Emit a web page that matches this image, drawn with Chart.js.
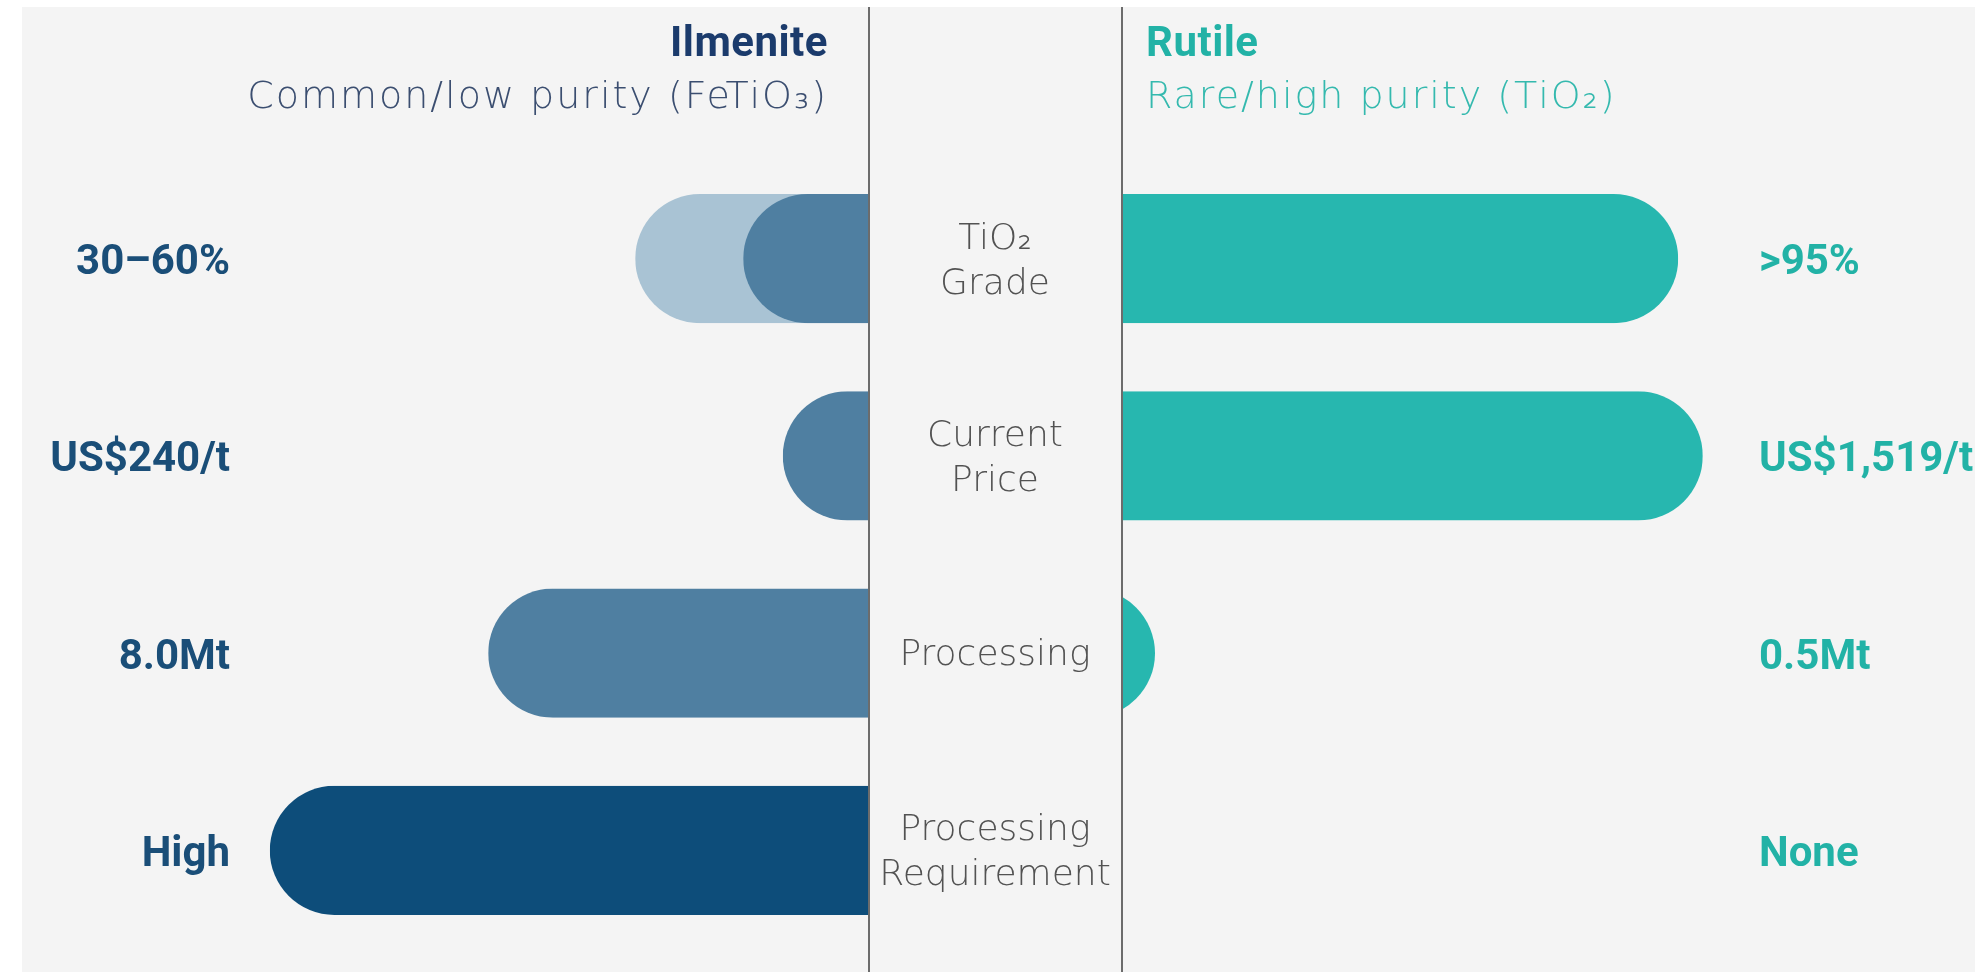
<!DOCTYPE html>
<html>
<head>
<meta charset="utf-8">
<script src="https://cdn.jsdelivr.net/npm/chart.js@4"></script>
<style>
  html, body { margin: 0; padding: 0; background: #ffffff; }
  body { width: 1975px; height: 972px; position: relative; overflow: hidden; }
  #panel { position: absolute; left: 22px; top: 7px; right: 0; bottom: 0; background: #f4f4f4; }
  #left-wrap { position: absolute; left: 0; top: 0; width: 868px; height: 972px; }
  #right-wrap { position: absolute; left: 868px; top: 0; width: 1107px; height: 972px; }
</style>
</head>
<body>
<div id="panel"></div>
<div id="left-wrap"><canvas id="ilmenite-chart"></canvas></div>
<div id="right-wrap"><canvas id="rutile-chart"></canvas></div>
<script>
  // rows, top to bottom
  const categories = ["TiO₂ Grade", "Current Price", "Processing", "Processing Requirement"];
  const centreLabels = [["TiO₂", "Grade"], ["Current", "Price"], ["Processing"], ["Processing", "Requirement"]];
  const ilmeniteLabels = ["30–60%", "US$240/t", "8.0Mt", "High"];
  const rutileLabels = [">95%", "US$1,519/t", "0.5Mt", "None"];

  // bar lengths (relative, 0-100)
  const ilmeniteBars = [20.8, 14.2, 63.3, 99.7];
  const ilmeniteUpper = [38.8, null, null, null]; // upper end of the 30-60% grade range
  const rutileBars = [92.7, 96.8, 5.5, 0];

  const NAVY = "#1b3b6c", BLUE_TXT = "#1a4e78", MID = "#4f7fa1", DARK = "#0d4d7a", LIGHT = "#a9c3d4";
  const TEAL = "#27b7af", TEAL_TXT = "#22b2a6", TEAL_SUB = "#34b9ae", GREY = "#525252";
  const VALUE_FONT = { family: "Roboto", size: 42, weight: "bold" };

  // bars with a fully rounded outer end, cut off flat at the base
  const pillBars = {
    id: "pillBars",
    beforeDatasetDraw(chart, args) {
      const ctx = chart.ctx;
      const ds = chart.data.datasets[args.index];
      args.meta.data.forEach((bar, i) => {
        const v = ds.data[i];
        if (v == null || v === 0) return;
        const p = bar.getProps(["x", "y", "base", "height"], true);
        const left = Math.min(p.x, p.base), w = Math.abs(p.x - p.base), r = p.height / 2;
        ctx.save();
        ctx.beginPath();
        ctx.rect(left, p.y - r, w, p.height);
        ctx.clip();
        ctx.fillStyle = bar.options.backgroundColor;
        ctx.beginPath();
        if (p.x >= p.base) ctx.roundRect(p.x - w - 2 * r, p.y - r, w + 2 * r, p.height, r);
        else ctx.roundRect(p.x, p.y - r, w + 2 * r, p.height, r);
        ctx.fill();
        ctx.restore();
      });
      return false;
    }
  };

  function header(ctx, x, align, title, sub, titleColor, subColor) {
    ctx.save();
    ctx.textAlign = align;
    ctx.textBaseline = "alphabetic";
    ctx.fillStyle = titleColor;
    ctx.font = "bold 42px Roboto";
    ctx.letterSpacing = "0.5px";
    ctx.fillText(title, x, 56);
    ctx.fillStyle = subColor;
    ctx.font = "300 38px 'DejaVu Sans'";
    ctx.letterSpacing = "2px";
    ctx.fillText(sub, x, 108);
    ctx.restore();
  }

  const ilmeniteHeader = {
    id: "ilmeniteHeader",
    afterDraw(chart) {
      header(chart.ctx, chart.chartArea.right - 40, "right", "Ilmenite", "Common/low purity (FeTiO₃)", NAVY, "#3b4e70");
    }
  };

  const rutileExtras = {
    id: "rutileExtras",
    afterDraw(chart) {
      const ctx = chart.ctx, a = chart.chartArea, ys = chart.scales.y;
      header(ctx, a.left + 24, "left", "Rutile", "Rare/high purity (TiO₂)", TEAL_TXT, TEAL_SUB);
      // divider lines
      ctx.save();
      ctx.strokeStyle = "#6c6c6c";
      ctx.lineWidth = 2;
      [1, a.left].forEach((x) => {
        ctx.beginPath(); ctx.moveTo(x, 7); ctx.lineTo(x, chart.height); ctx.stroke();
      });
      // centre category labels
      ctx.fillStyle = GREY;
      ctx.font = "300 36px 'DejaVu Sans'";
      ctx.textAlign = "center";
      ctx.textBaseline = "alphabetic";
      const cx = a.left / 2;
      centreLabels.forEach((lines, i) => {
        const cy = ys.getPixelForValue(i);
        const first = lines.length === 1 ? cy + 12 : cy - 10;
        lines.forEach((t, j) => ctx.fillText(t, cx, first + j * 45));
      });
      ctx.restore();
    }
  };

  const fitAxis = (w) => (s) => { s.width = w; s.paddingTop = 0; s.paddingBottom = 0; };

  const common = {
    indexAxis: "y",
    responsive: true,
    maintainAspectRatio: false,
    animation: false,
    plugins: { legend: { display: false }, tooltip: { enabled: false } },
    datasets: { bar: { grouped: false, categoryPercentage: 1, barPercentage: 0.655 } }
  };

  new Chart(document.getElementById("ilmenite-chart"), {
    type: "bar",
    data: {
      labels: categories,
      datasets: [
        { label: "Ilmenite", data: ilmeniteBars, backgroundColor: [MID, MID, MID, DARK] },
        { label: "Ilmenite (upper range)", data: ilmeniteUpper, backgroundColor: LIGHT }
      ]
    },
    options: Object.assign({}, common, {
      layout: { padding: { top: 160, bottom: 23, left: 0, right: 0 } },
      scales: {
        x: { display: false, reverse: true, min: 0, max: 100 },
        y: {
          position: "left",
          afterFit: fitAxis(268),
          grid: { display: false, drawTicks: false },
          border: { display: false },
          ticks: { padding: 38, labelOffset: 5, color: BLUE_TXT, font: VALUE_FONT, callback: (v, i) => ilmeniteLabels[i] }
        }
      }
    }),
    plugins: [pillBars, ilmeniteHeader]
  });

  new Chart(document.getElementById("rutile-chart"), {
    type: "bar",
    data: {
      labels: categories,
      datasets: [{ label: "Rutile", data: rutileBars, backgroundColor: TEAL }]
    },
    options: Object.assign({}, common, {
      layout: { padding: { top: 160, bottom: 23, left: 254, right: 0 } },
      scales: {
        x: { display: false, min: 0, max: 100 },
        y: {
          position: "right",
          afterFit: fitAxis(253),
          grid: { display: false, drawTicks: false },
          border: { display: false },
          ticks: { padding: 37, labelOffset: 5, color: TEAL_TXT, font: VALUE_FONT, callback: (v, i) => rutileLabels[i] }
        }
      }
    }),
    plugins: [pillBars, rutileExtras]
  });
</script>
</body>
</html>
